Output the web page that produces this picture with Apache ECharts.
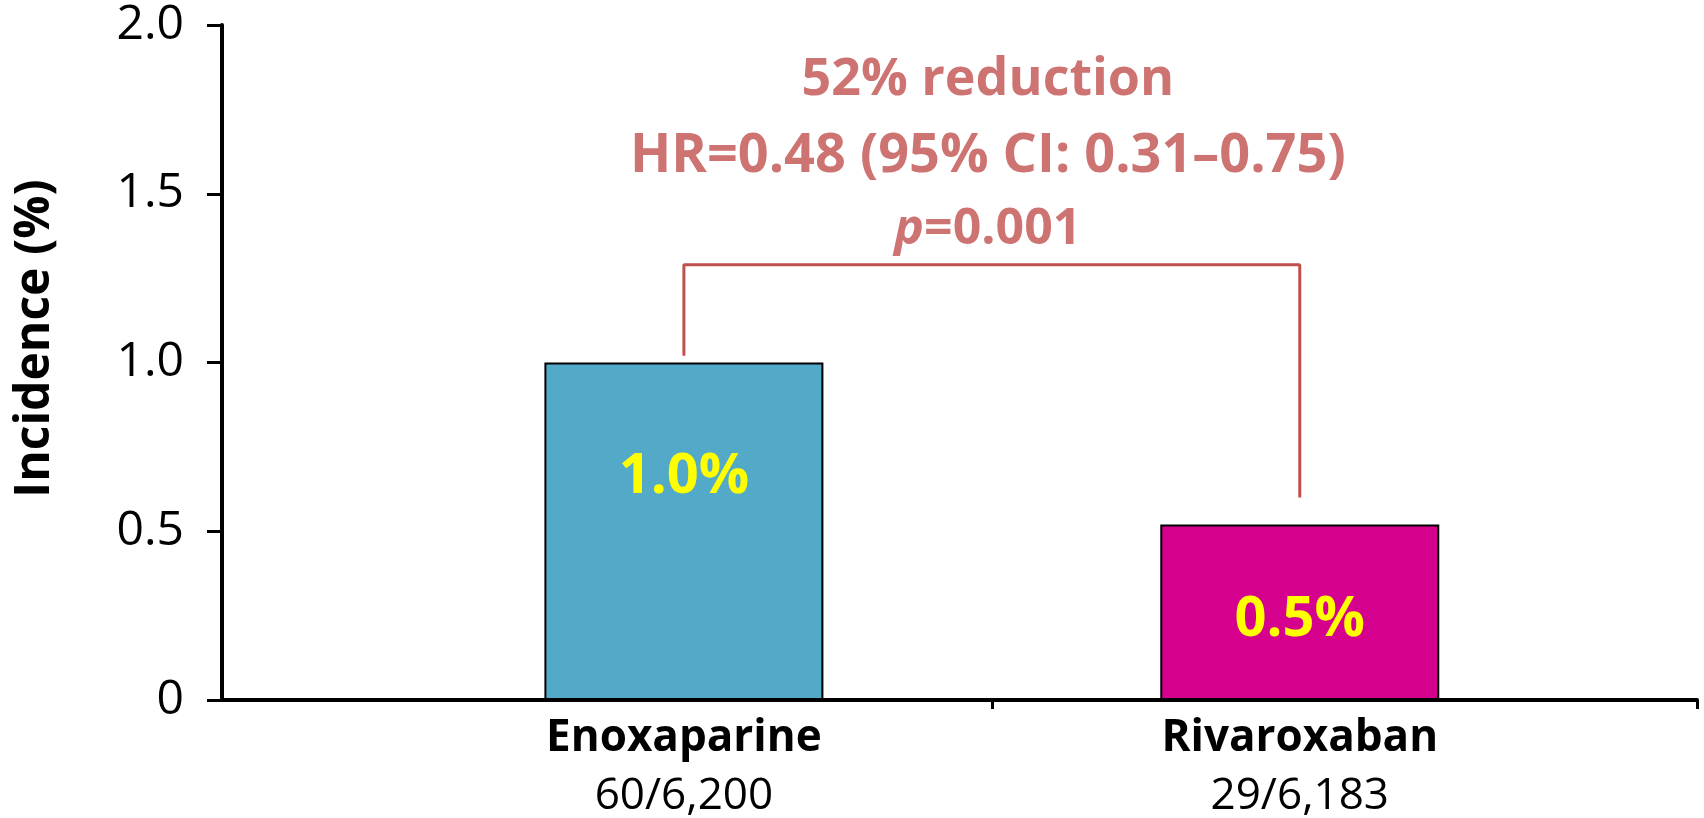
<!DOCTYPE html>
<html>
<head>
<meta charset="utf-8">
<script src="https://cdn.jsdelivr.net/npm/echarts@6/dist/echarts.min.js"></script>
<style>
  html, body { margin: 0; padding: 0; background: #ffffff; }
  #chart { width: 1704px; height: 818px; }
</style>
</head>
<body>
<div id="chart"></div>
<script>
// ---- data ----
const categories = ['Enoxaparine', 'Rivaroxaban'];
const counts = ['60/6,200', '29/6,183'];
const incidence = [1.0, 0.52];
const barLabels = ['1.0%', '0.5%'];
const yTickValues = [0, 0.5, 1.0, 1.5, 2.0];
const yTickLabels = ['0', '0.5', '1.0', '1.5', '2.0'];
const bracketLevels = [1.02, 1.29, 0.60];   // left foot, top, right foot (y-axis units)
const reductionText = '52% reduction';
const hrText = 'HR=0.48 (95% CI: 0.31\u20130.75)';
const pLetter = 'p';
const pValueText = '=0.001';

// ---- styles ----
const FONT = 'Open Sans';
const RED = '#C0504D';
const barColors = ['#52A9C8', '#D6008F'];
const barLabelOffsets = [[0, -54], [0, 8]];

const chart = echarts.init(document.getElementById('chart'), null, { renderer: 'canvas' });

const barData = incidence.map((v, i) => ({
  value: [i, v],
  itemStyle: { color: barColors[i], borderColor: '#000', borderWidth: 2 },
  label: { formatter: barLabels[i], offset: barLabelOffsets[i] }
}));

const bracketData = [
  [0, bracketLevels[0]],
  [0, bracketLevels[1]],
  [1, bracketLevels[1]],
  [1, bracketLevels[2]]
];

const option = {
  animation: false,
  backgroundColor: '#ffffff',
  textStyle: { fontFamily: FONT },
  grid: { left: 222, right: 7, top: 25, bottom: 115, containLabel: false },
  xAxis: {
    type: 'value',
    min: -0.75,
    max: 1.645,
    splitLine: { show: false },
    axisLine: { show: true, onZero: false, lineStyle: { color: '#000', width: 4 } },
    axisTick: {
      show: true, inside: false, length: 9,
      customValues: [0.5, 1.645],
      lineStyle: { color: '#000', width: 3 }
    },
    axisLabel: {
      show: true,
      customValues: categories.map((c, i) => i),
      margin: 10,
      formatter: function (v) {
        const i = Math.round(v);
        return '{a|' + categories[i] + '}\n{b|' + counts[i] + '}';
      },
      rich: {
        a: { fontFamily: FONT, fontSize: 44, fontWeight: 'bold', color: '#000', lineHeight: 56 },
        b: { fontFamily: FONT, fontSize: 44, color: '#000', lineHeight: 60 }
      }
    }
  },
  yAxis: {
    type: 'value',
    min: 0,
    max: 2,
    interval: 0.5,
    name: 'Incidence (%)',
    nameLocation: 'middle',
    nameGap: 163,
    nameTextStyle: {
      fontFamily: FONT, fontSize: 48, fontWeight: 'bold', color: '#000',
      padding: [0, 0, 0, 48]
    },
    splitLine: { show: false },
    axisLine: { show: true, onZero: false, lineStyle: { color: '#000', width: 4 } },
    axisTick: { show: true, inside: false, length: 15, lineStyle: { color: '#000', width: 3 } },
    axisLabel: {
      margin: 38,
      fontFamily: FONT, fontSize: 48, color: '#000',
      formatter: function (v) {
        const idx = yTickValues.findIndex(t => Math.abs(t - v) < 1e-9);
        return idx >= 0 ? yTickLabels[idx] : '';
      }
    }
  },
  series: [
    {
      type: 'bar',
      data: barData,
      barWidth: 279,
      label: {
        show: true,
        position: 'inside',
        fontFamily: FONT,
        fontSize: 56,
        fontWeight: 'bold',
        color: '#FFFF00'
      },
      z: 2
    },
    {
      type: 'line',
      data: bracketData,
      symbol: 'none',
      lineStyle: { color: RED, width: 3 },
      silent: true,
      z: 3
    },
    {
      type: 'scatter',
      data: [[0.5, bracketLevels[1]]],
      symbolSize: 0,
      silent: true,
      label: {
        show: true,
        position: 'top',
        distance: 0,
        align: 'center',
        offset: [-4, 0],
        formatter: '{a|' + reductionText + '}\n{b|' + hrText + '}\n{p|' + pLetter + '}{c|' + pValueText + '}',
        rich: {
          a: { fontFamily: FONT, fontSize: 52, fontWeight: 'bold', color: RED, lineHeight: 76, align: 'center' },
          b: { fontFamily: FONT, fontSize: 54, fontWeight: 'bold', color: RED, lineHeight: 76, align: 'center' },
          p: { fontFamily: FONT, fontSize: 50, fontWeight: 'bold', fontStyle: 'italic', color: RED, lineHeight: 70 },
          c: { fontFamily: FONT, fontSize: 50, fontWeight: 'bold', color: RED, lineHeight: 70 }
        }
      },
      z: 4
    }
  ]
};

chart.setOption(option);
</script>
</body>
</html>
